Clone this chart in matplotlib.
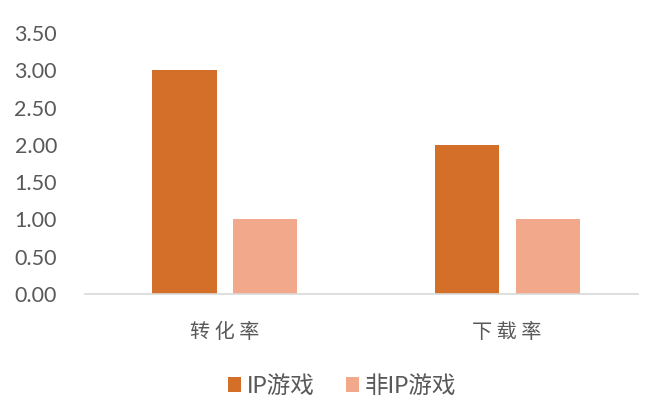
import matplotlib.pyplot as plt
import numpy as np

plt.rcParams['font.family'] = ['Lato', 'Noto Sans CJK SC', 'DejaVu Sans']

categorias = ['转 化 率', '下 载 率']
ip_juegos = [3.0, 2.0]
no_ip_juegos = [1.0, 1.0]
series = ['IP游戏', '非IP游戏']
yticks = [0, 0.5, 1.0, 1.5, 2.0, 2.5, 3.0, 3.5]

fig = plt.figure(figsize=(6.52, 4.0), dpi=100)
ax = fig.add_axes([0.130, 0.265, 0.849, 0.6525])

x = np.arange(len(categorias))
ancho = 0.227
sep = 0.03
ax.bar(x - ancho / 2 - sep, ip_juegos, ancho, color='#D46F2A', label=series[0])
ax.bar(x + ancho / 2 + sep, no_ip_juegos, ancho, color='#F2A98B', label=series[1])

ax.set_xlim(-0.497, 1.465)
ax.set_ylim(0, 3.5)
ax.set_yticks(yticks)
ax.set_yticklabels(['%.2f' % v for v in yticks])
ax.set_xticks(x)
ax.set_xticklabels(categorias, fontfamily=['Noto Sans CJK SC'], fontsize=14.5)

for lado in ['top', 'right', 'left']:
    ax.spines[lado].set_visible(False)
ax.spines['bottom'].set_color('#D9D9D9')
ax.spines['bottom'].set_linewidth(1.2)
ax.tick_params(axis='both', length=0, colors='#595959')
ax.tick_params(axis='y', labelsize=15.5, pad=20)
ax.tick_params(axis='x', pad=20)

fig.legend(loc='lower center', bbox_to_anchor=(0.525, -0.045), ncol=2, frameon=False,
           fontsize=17, handlelength=0.55, handleheight=0.55, handletextpad=0.25,
           columnspacing=1.3, labelcolor='#595959')

plt.savefig('out.png', dpi=100)
